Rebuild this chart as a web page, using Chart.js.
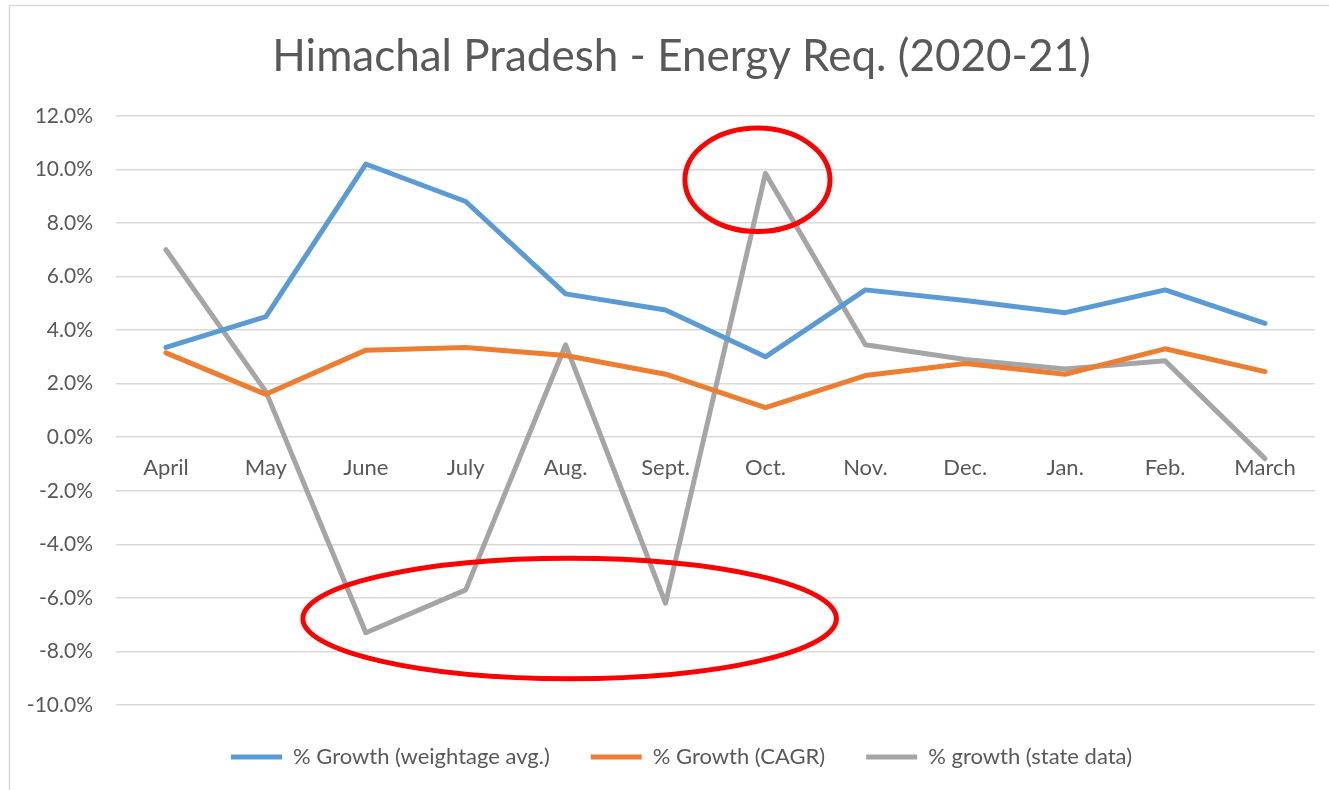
<!DOCTYPE html>
<html lang="en">
<head>
  <meta charset="UTF-8">
  <title>Himachal Pradesh - Energy Req. (2020-21)</title>
  <script src="https://cdn.jsdelivr.net/npm/chart.js"></script>
  <style>
    html, body { margin: 0; padding: 0; background: #fff; }
    #wrap { width: 1329px; height: 790px; }
  </style>
</head>
<body>
  <div id="wrap"><canvas id="chart" width="1329" height="790"></canvas></div>

  <script>
    // Data (percent)
    const months = ['April', 'May', 'June', 'July', 'Aug.', 'Sept.', 'Oct.', 'Nov.', 'Dec.', 'Jan.', 'Feb.', 'March'];
    const growthWeighted = [3.35, 4.5, 10.2, 8.8, 5.35, 4.75, 3.0, 5.5, 5.1, 4.65, 5.5, 4.25];
    const growthCagr = [3.15, 1.6, 3.25, 3.35, 3.05, 2.35, 1.1, 2.3, 2.75, 2.35, 3.3, 2.45];
    const growthState = [7.0, 1.7, -7.3, -5.7, 3.45, -6.2, 9.85, 3.45, 2.9, 2.55, 2.85, -0.8];
    const yTicks = [-10, -8, -6, -4, -2, 0, 2, 4, 6, 8, 10, 12];

    const FONT = 'Lato, "Open Sans", sans-serif';
    const TEXT = '#595959';
    const GRID = '#d9d9d9';

    // frame + red ellipses drawn over the chart, positioned in scale units
    const highlightPlugin = {
      id: 'highlights',
      beforeDraw(chart) {
        const ctx = chart.ctx;
        ctx.save();
        ctx.strokeStyle = GRID;
        ctx.lineWidth = 1.5;
        ctx.beginPath();
        ctx.moveTo(9.5, 790);
        ctx.lineTo(9.5, 5.5);
        ctx.lineTo(1329, 5.5);
        ctx.stroke();
        ctx.restore();
      },
      afterDatasetsDraw(chart) {
        const x = chart.scales.x, y = chart.scales.y;
        const rings = [
          { cx: 5.92, cy: 9.61, rx: 0.726, ry: 1.93 },
          { cx: 4.04, cy: -6.77, rx: 2.67, ry: 2.25 }
        ];
        const ctx = chart.ctx;
        ctx.save();
        ctx.strokeStyle = '#ff0000';
        ctx.lineWidth = 5;
        rings.forEach(r => {
          const px = x.getPixelForValue(r.cx);
          const py = y.getPixelForValue(r.cy);
          const w = x.getPixelForValue(r.cx + r.rx) - px;
          const h = py - y.getPixelForValue(r.cy + r.ry);
          ctx.beginPath();
          ctx.ellipse(px, py, w, h, 0, 0, Math.PI * 2);
          ctx.stroke();
        });
        ctx.restore();
      }
    };

    function series(label, data, color) {
      return {
        label: label,
        data: data,
        borderColor: color,
        backgroundColor: color,
        borderWidth: 5,
        borderCapStyle: 'round',
        borderJoinStyle: 'round',
        pointRadius: 0,
        tension: 0
      };
    }

    new Chart(document.getElementById('chart'), {
      type: 'line',
      data: {
        labels: months,
        datasets: [
          series('% Growth (weightage avg.)', growthWeighted, '#5b9bd5'),
          series('% Growth (CAGR)', growthCagr, '#ed7d31'),
          series('% growth (state data)', growthState, '#a5a5a5')
        ]
      },
      plugins: [highlightPlugin],
      options: {
        responsive: false,
        animation: false,
        layout: { padding: { left: 48, right: 14, top: 5, bottom: 12 } },
        scales: {
          x: {
            position: { y: 0 },
            offset: true,
            grid: { display: false, drawTicks: false },
            border: { display: false },
            ticks: { color: TEXT, font: { family: FONT, size: 22 }, padding: 18, maxRotation: 0 }
          },
          y: {
            min: -10,
            max: 12,
            afterBuildTicks: s => { s.ticks = yTicks.map(v => ({ value: v })); },
            afterFit: s => {
              s.width = 68;
              // labels stick out past the narrow axis box, so don't clip them
              s._computeLabelArea = () => undefined;
            },
            grid: { color: GRID, lineWidth: 1.5, drawTicks: false },
            border: { display: false },
            ticks: {
              color: TEXT,
              font: { family: FONT, size: 21 },
              padding: 23,
              callback: v => v.toFixed(1) + '%'
            }
          }
        },
        plugins: {
          title: {
            display: true,
            text: 'Himachal Pradesh - Energy Req. (2020-21)',
            color: TEXT,
            font: { family: FONT, size: 44, weight: 'normal' },
            padding: { top: 25, bottom: 33 }
          },
          legend: {
            position: 'bottom',
            labels: {
              color: TEXT,
              font: { family: FONT, size: 22 },
              usePointStyle: true,
              pointStyle: 'line',
              pointStyleWidth: 51,
              padding: 41
            }
          },
          tooltip: { enabled: false }
        }
      }
    });
  </script>
</body>
</html>
